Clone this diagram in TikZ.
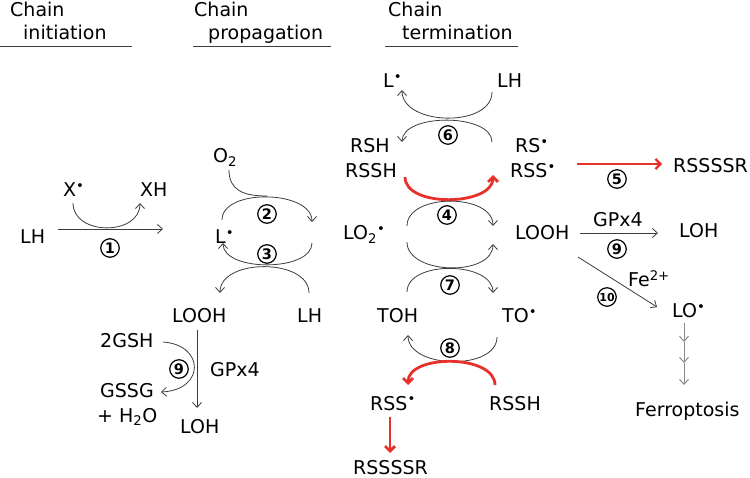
\documentclass[tikz,border=0pt]{standalone}
\usepackage{fontspec}
\setmainfont{DejaVu Sans}
\usetikzlibrary{arrows.meta}
\definecolor{ln}{HTML}{3C3C3C}
\definecolor{rd}{HTML}{E8302A}
\definecolor{gr}{HTML}{8A8A8A}
\newcommand\rdot{\textsuperscript{\textbullet}}
\begin{document}
\begin{tikzpicture}[x=1pt,y=-1pt,
 txt/.style={inner sep=0pt,anchor=base west,font=\fontsize{19}{22}\selectfont},
 cnum/.style={circle,draw,line width=1.2pt,minimum size=18.5pt,inner sep=0pt,font=\bfseries\fontsize{14.5}{14.5}\selectfont},
 arr/.style={draw=ln,line width=0.8pt,-{Straight Barb[length=5pt,width=9pt]}},
 rarr/.style={draw=rd,line width=2.8pt,-{Straight Barb[length=5pt,width=10pt]}},
 garr/.style={draw=gr,line width=1pt,-{Straight Barb[length=5pt,width=9pt]}},
 rulel/.style={draw=ln,line width=1pt}]
\path[use as bounding box] (0,0) rectangle (750,478);
% headers
\node[txt] (hdA1) at (10,17) {Chain};
\node[txt] (hdA2) at (23,40) {initiation};
\node[txt] (hdB1) at (194,17) {Chain};
\node[txt] (hdB2) at (208,40) {propagation};
\node[txt] (hdC1) at (388,17) {Chain};
\node[txt] (hdC2) at (402,40) {termination};
\coordinate (uA1) at (0,47);   \coordinate (uA2) at (132,47);
\coordinate (uB1) at (193,47); \coordinate (uB2) at (331,47);
\coordinate (uC1) at (385,47); \coordinate (uC2) at (518,47);
\draw[rulel] (uA1) -- (uA2);
\draw[rulel] (uB1) -- (uB2);
\draw[rulel] (uC1) -- (uC2);
% texts
\node[txt] (lh1) at (20,244) {LH};
\node[txt] (xr) at (63,197) {X\rdot};
\node[txt] (xh) at (140,197) {XH};
\node[txt] (lr1) at (215,244) {L\rdot};
\node[txt] (o2) at (213,163) {O\textsubscript{2}};
\node[txt] (lo2) at (343,240) {LO\textsubscript{2}\rdot};
\node[txt] (looh1) at (172,323) {LOOH};
\node[txt] (lh2) at (297,323) {LH};
\node[txt] (gsh) at (100,348) {2GSH};
\node[txt] (gpx1) at (210,377) {GPx4};
\node[txt] (gssg) at (100,397) {GSSG};
\node[txt] (h2o) at (97,422) {+ H\textsubscript{2}O};
\node[txt] (loh1) at (180,433) {LOH};
\node[txt] (lr2) at (383,88) {L\rdot};
\node[txt] (lh3) at (497,88) {LH};
\node[txt] (rsh) at (350,153) {RSH};
\node[txt] (rssh1) at (345,178) {RSSH};
\node[txt] (rs) at (515,153) {RS\rdot};
\node[txt] (rss1) at (510,178) {RSS\rdot};
\node[txt] (rssssr1) at (673,173) {RSSSSR};
\node[txt] (looh2) at (515,240) {LOOH};
\node[txt] (gpx2) at (593,227) {GPx4};
\node[txt] (loh2) at (679,238) {LOH};
\node[txt] (fe) at (628,287) {Fe\textsuperscript{2+}};
\node[txt] (lo) at (672,318) {LO\rdot};
\node[txt] (ferro) at (635,416) {Ferroptosis};
\node[txt] (toh) at (377,323) {TOH};
\node[txt] (to) at (502,323) {TO\rdot};
\node[txt] (rss2) at (370,410) {RSS\rdot};
\node[txt] (rssh2) at (489,410) {RSSH};
\node[txt] (rssssr2) at (353,474) {RSSSSR};
% circled numbers
\node[cnum] (n1) at (110,248) {1};
\node[cnum] (n2) at (267,214) {2};
\node[cnum] (n3) at (267,254) {3};
\node[cnum] (n4) at (447,215) {4};
\node[cnum] (n5) at (617,179) {5};
\node[cnum] (n6) at (448,135) {6};
\node[cnum] (n7) at (450,285) {7};
\node[cnum] (n8) at (450,348) {8};
\node[cnum] (n9a) at (617,249) {9};
\node[cnum] (n9b) at (179,369) {9};
\node[cnum,font=\bfseries\fontsize{11}{11}\selectfont] (n10) at (607,297) {10};
% connector endpoints
\coordinate (c1s) at (73,203);  \coordinate (c1e) at (140,203);
\coordinate (l1s) at (58,229);  \coordinate (l1e) at (163,229);
\coordinate (c2s) at (222,220); \coordinate (c2e) at (312,222);
\coordinate (o2s) at (229,170); \coordinate (o2e) at (267,196);
\coordinate (c3s) at (312,243); \coordinate (c3e) at (223,243);
\coordinate (c3bs) at (309,293); \coordinate (c3be) at (220,293);
\coordinate (g1s) at (197,330); \coordinate (g1e) at (197,408);
\coordinate (gss) at (163,342); \coordinate (gse) at (161,392);
\coordinate (c6s) at (492,92);  \coordinate (c6e) at (402,90);
\coordinate (c6bs) at (492,142); \coordinate (c6be) at (402,142);
\coordinate (r4s) at (405,177); \coordinate (r4e) at (493,175);
\coordinate (c4s) at (407,226); \coordinate (c4e) at (493,226);
\coordinate (c7s) at (407,242); \coordinate (c7e) at (493,244);
\coordinate (c7bs) at (407,292); \coordinate (c7be) at (493,293);
\coordinate (c8s) at (497,337); \coordinate (c8e) at (408,335);
\coordinate (r8s) at (495,385); \coordinate (r8e) at (408,385);
\coordinate (rds) at (390,417); \coordinate (rde) at (390,453);
\coordinate (r5s) at (577,164); \coordinate (r5e) at (662,164);
\coordinate (g9s) at (580,233); \coordinate (g9e) at (658,233);
\coordinate (f10s) at (578,257); \coordinate (f10e) at (657,307);
\coordinate (f0) at (684,323); \coordinate (f1) at (684,342);
\coordinate (f2) at (684,363); \coordinate (f3) at (684,385);
% initiation
\draw[arr] (c1s) .. controls +(0,33) and +(0,33) .. (c1e);
\draw[arr] (l1s) -- (l1e);
% propagation
\draw[arr] (c2s) .. controls +(0,-32) and +(0,-32) .. (c2e);
\draw[draw=ln,line width=0.8pt] (o2s) .. controls (229,190) and (243,196) .. (o2e);
\draw[arr] (c3s) .. controls +(0,29) and +(0,29) .. (c3e);
\draw[arr] (c3bs) .. controls +(0,-35) and +(0,-35) .. (c3be);
\draw[arr] (g1s) -- (g1e);
\draw[arr] (gss) .. controls (205,345) and (205,390) .. (gse);
% termination
\draw[arr] (c6s) .. controls +(0,36) and +(0,36) .. (c6e);
\draw[arr] (c6bs) .. controls +(0,-29) and +(0,-29) .. (c6be);
\draw[rarr] (r4s) .. controls +(0,31) and +(0,31) .. (r4e);
\draw[arr] (c4s) .. controls +(0,-33) and +(0,-33) .. (c4e);
\draw[arr] (c7s) .. controls +(0,33) and +(0,33) .. (c7e);
\draw[arr] (c7bs) .. controls +(0,-32) and +(0,-32) .. (c7be);
\draw[arr] (c8s) .. controls +(0,34) and +(0,34) .. (c8e);
\draw[rarr] (r8s) .. controls +(0,-31) and +(0,-31) .. (r8e);
\draw[rarr] (rds) -- (rde);
% right side
\draw[rarr,line width=2.2pt] (r5s) -- (r5e);
\draw[arr] (g9s) -- (g9e);
\draw[arr] (f10s) -- (f10e);
\draw[garr] (f0) -- (f1);
\draw[garr] (f1) -- (f2);
\draw[garr] (f2) -- (f3);
\end{tikzpicture}
\end{document}
